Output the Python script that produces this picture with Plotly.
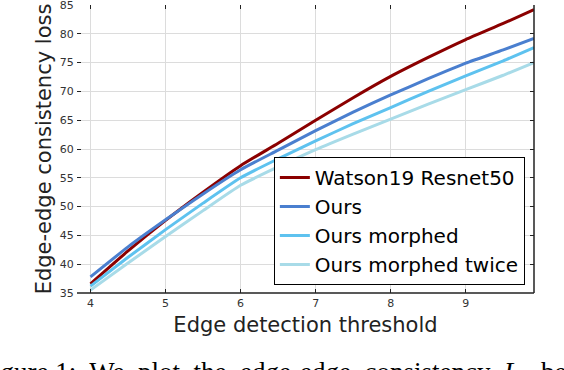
import plotly.graph_objects as go

# Data
threshold = [4.0, 4.5, 5.0, 5.5, 6.0, 6.5, 7.0, 7.5, 8.0, 8.5, 9.0, 9.5, 9.91]
watson = [36.6, 42.3, 47.6, 52.5, 57.1, 61.0, 65.0, 68.9, 72.6, 75.9, 79.0, 81.8, 84.2]
ours = [37.8, 43.0, 47.7, 52.2, 56.4, 59.8, 63.2, 66.4, 69.4, 72.2, 74.9, 77.2, 79.2]
ours_morphed = [36.2, 41.2, 46.0, 50.6, 55.0, 58.3, 61.4, 64.4, 67.2, 70.0, 72.7, 75.3, 77.6]
ours_twice = [35.5, 40.2, 44.8, 49.3, 53.7, 56.9, 59.9, 62.6, 65.2, 67.8, 70.3, 72.8, 75.0]

series_names = ["Watson19 Resnet50", "Ours", "Ours morphed", "Ours morphed twice"]
series_values = [watson, ours, ours_morphed, ours_twice]
series_colors = ["#8b0000", "#4a7fcf", "#5ec2ef", "#a8dbe8"]

x_ticks = [4, 5, 6, 7, 8, 9]
y_ticks = [35, 40, 45, 50, 55, 60, 65, 70, 75, 80, 85]

fig = go.Figure()
for name, vals, col in zip(series_names, series_values, series_colors):
    fig.add_trace(go.Scatter(x=threshold, y=vals, name=name, mode="lines",
                             line=dict(color=col, width=3, shape="spline", smoothing=0.5)))

font = "DejaVu Sans"
axis_common = dict(showgrid=True, gridcolor="#dcdcdc", gridwidth=1, zeroline=False,
                   showline=True, linecolor="rgba(0,0,0,0)", mirror="ticks",
                   ticks="inside", ticklen=4, tickwidth=1, tickcolor="#222",
                   automargin=False, ticklabeloverflow="allow",
                   tickfont=dict(family=font, size=11, color="#333"))

fig.update_layout(
    width=564, height=370,
    margin=dict(l=77, r=30, t=5, b=77),
    paper_bgcolor="white", plot_bgcolor="white",
    showlegend=True,
    legend=dict(x=0.98, y=0.028, xanchor="right", yanchor="bottom",
                bgcolor="white", bordercolor="#000", borderwidth=1,
                font=dict(family=font, size=20, color="#000"),
                tracegroupgap=0, itemwidth=30),
    xaxis=dict(range=[3.82, 9.91], tickvals=x_ticks,
               title=dict(text="Edge detection threshold",
                          font=dict(family=font, size=21, color="#222"), standoff=8),
               **axis_common),
    yaxis=dict(range=[35, 85], tickvals=y_ticks,
               title=dict(text="Edge-edge consistency loss",
                          font=dict(family=font, size=21, color="#222"), standoff=2),
               **axis_common),
    shapes=[
        dict(type="line", xref="paper", yref="paper", x0=0, x1=1, y0=0, y1=0,
             line=dict(color="#222", width=1.5)),
        dict(type="line", xref="paper", yref="paper", x0=1, x1=1, y0=0, y1=1,
             line=dict(color="#222", width=1.5)),
    ],
    annotations=[
        dict(text="Figure 1:&nbsp; We&nbsp; plot&nbsp; the&nbsp; edge-edge&nbsp; consistency&nbsp; <i>L</i><sub>e</sub>&nbsp; between",
             xref="paper", yref="paper", x=-0.22, y=-0.215,
             xanchor="left", yanchor="top", showarrow=False,
             font=dict(family="Liberation Serif", size=27, color="#000")),
    ],
)

fig.write_html("out.html", config={"displayModeBar": False},
               post_script="document.body.style.margin='0px';document.body.style.overflow='hidden';")
